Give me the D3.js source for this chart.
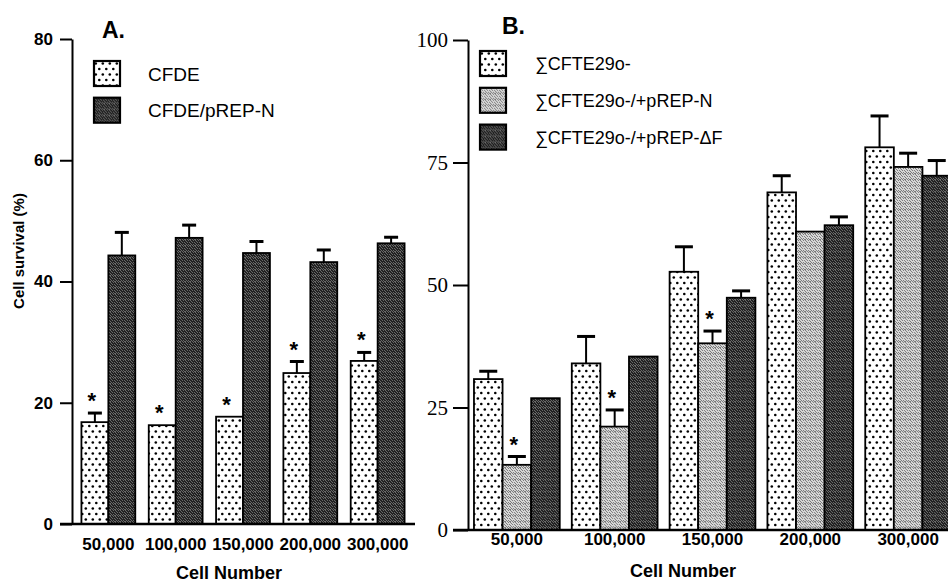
<!DOCTYPE html>
<html>
<head>
<meta charset="utf-8">
<script src="https://cdn.jsdelivr.net/npm/d3@7"></script>
<style>
  body { margin: 0; background: #fff; }
  svg { display: block; }
</style>
</head>
<body>
<svg id="chart"></svg>
<script>
// categories shared by both panels
var cellNumbers = ["50,000", "100,000", "150,000", "200,000", "300,000"];

// panel A
var seriesA = ["CFDE", "CFDE/pREP-N"];
var cfde = [16.8, 16.3, 17.7, 24.9, 26.9];
var cfdeErr = [1.5, 0, 0, 1.9, 1.4];
var cfdeSig = [true, true, true, true, true];
var cfdePrepN = [44.3, 47.2, 44.7, 43.2, 46.3];
var cfdePrepNErr = [3.8, 2.1, 1.9, 2.0, 1.0];
var cfdePrepNSig = [false, false, false, false, false];
var ticksA = [0, 20, 40, 60, 80];

// panel B
var seriesB = ["\u2211CFTE29o-", "\u2211CFTE29o-/+pREP-N", "\u2211CFTE29o-/+pREP-\u0394F"];
var cfte = [30.8, 34.0, 52.7, 68.9, 78.1];
var cfteErr = [1.6, 5.5, 5.1, 3.4, 6.4];
var cfteSig = [false, false, false, false, false];
var cftePrepN = [13.3, 21.1, 38.1, 60.9, 74.1];
var cftePrepNErr = [1.7, 3.4, 2.5, 0, 2.8];
var cftePrepNSig = [true, true, true, false, false];
var cftePrepDF = [26.9, 35.4, 47.4, 62.2, 72.3];
var cftePrepDFErr = [0, 0, 1.4, 1.7, 3.1];
var cftePrepDFSig = [false, false, false, false, false];
var ticksB = [0, 25, 50, 75, 100];

var svg = d3.select("#chart")
    .attr("width", 948)
    .attr("height", 584);

var sans = "'Liberation Sans', Arial, Helvetica, sans-serif",
    serif = "'Liberation Serif', 'Times New Roman', serif";

// fill patterns: dotted, light stipple, dark stipple
var defs = svg.append("defs");

var dots = defs.append("pattern")
    .attr("id", "dots")
    .attr("patternUnits", "userSpaceOnUse")
    .attr("width", 7)
    .attr("height", 11);
dots.append("rect").attr("width", 7).attr("height", 11).attr("fill", "#fff");
dots.append("circle").attr("cx", 1.8).attr("cy", 2.5).attr("r", 1.3).attr("fill", "#000");
dots.append("circle").attr("cx", 5.3).attr("cy", 8).attr("r", 1.3).attr("fill", "#000");

// scattered pixels so the stipple does not read as hatching
var speckle = [[0, 0], [3, 0], [1, 1], [4, 2], [2, 2], [0, 3], [3, 4], [1, 4], [4, 5], [2, 5], [0, 5]];
function stipple(id, bg, fg) {
    var p = defs.append("pattern")
        .attr("id", id)
        .attr("patternUnits", "userSpaceOnUse")
        .attr("width", 5)
        .attr("height", 6);
    p.append("rect").attr("width", 5).attr("height", 6).attr("fill", bg);
    p.selectAll("rect.px")
        .data(speckle)
        .enter().append("rect")
        .attr("class", "px")
        .attr("x", function (d) { return d[0]; })
        .attr("y", function (d) { return d[1]; })
        .attr("width", 1)
        .attr("height", 1)
        .attr("fill", fg);
}
stipple("gray", "#d6d6d6", "#7c7c7c");
stipple("dark", "#222", "#686868");

function drawPanel(p) {
    var g = svg.append("g");

    var x0 = d3.scaleBand()
        .domain(cellNumbers)
        .range(p.xRange)
        .paddingInner(p.padInner)
        .paddingOuter(p.padOuter);

    var x1 = d3.scaleBand()
        .domain(p.series)
        .range([0, x0.bandwidth()]);

    var y = d3.scaleLinear()
        .domain([0, p.ticks[p.ticks.length - 1]])
        .range(p.yRange);

    var fill = d3.scaleOrdinal()
        .domain(p.series)
        .range(p.fills);

    // flatten into one record per bar
    var bars = [];
    cellNumbers.forEach(function (c, i) {
        p.series.forEach(function (s, j) {
            bars.push({ cat: c, key: s, value: p.values[j][i], err: p.errors[j][i], sig: p.sig[j][i] });
        });
    });

    g.append("g")
        .selectAll("rect")
        .data(bars)
        .enter().append("rect")
        .attr("x", function (d) { return x0(d.cat) + x1(d.key); })
        .attr("y", function (d) { return y(d.value); })
        .attr("width", x1.bandwidth())
        .attr("height", function (d) { return y(0) - y(d.value); })
        .attr("fill", function (d) { return "url(#" + fill(d.key) + ")"; })
        .attr("stroke", "#000")
        .attr("stroke-width", 1.8);

    // upward error bars
    var eb = g.append("g")
        .selectAll("g")
        .data(bars.filter(function (d) { return d.err > 0; }))
        .enter().append("g")
        .attr("transform", function (d) { return "translate(" + (x0(d.cat) + x1(d.key) + x1.bandwidth() / 2) + ",0)"; });

    eb.append("line")
        .attr("y1", function (d) { return y(d.value); })
        .attr("y2", function (d) { return y(d.value + d.err); })
        .attr("stroke", "#000")
        .attr("stroke-width", 2);

    eb.append("line")
        .attr("x1", -p.capWidth / 2)
        .attr("x2", p.capWidth / 2)
        .attr("y1", function (d) { return y(d.value + d.err); })
        .attr("y2", function (d) { return y(d.value + d.err); })
        .attr("stroke", "#000")
        .attr("stroke-width", 3);

    // significance stars
    g.append("g")
        .selectAll("text")
        .data(bars.filter(function (d) { return d.sig; }))
        .enter().append("text")
        .attr("x", function (d) { return x0(d.cat) + x1(d.key) + x1.bandwidth() / 2 - 3; })
        .attr("y", function (d) { return y(d.value + d.err) - 17 + 12; })
        .attr("text-anchor", "middle")
        .attr("font-family", sans)
        .attr("font-weight", "bold")
        .attr("font-size", 22)
        .attr("fill", "#000")
        .text("*");

    // y axis
    var yAxis = g.append("g")
        .attr("transform", "translate(" + p.xRange[0] + ",0)")
        .call(d3.axisLeft(y).tickValues(p.ticks).tickSize(p.tickSize).tickSizeOuter(0).tickPadding(p.tickPad));
    yAxis.select(".domain").attr("stroke-width", 2);
    yAxis.selectAll(".tick line").attr("stroke-width", 2);
    yAxis.selectAll(".tick text")
        .attr("font-family", p.tickFont)
        .attr("font-weight", p.tickWeight)
        .attr("font-size", p.tickFontSize)
        .attr("fill", "#000");

    // x axis line runs from the zero tick
    g.append("line")
        .attr("x1", p.xRange[0] - p.tickSize)
        .attr("x2", p.xLineEnd)
        .attr("y1", y(0))
        .attr("y2", y(0))
        .attr("stroke", "#000")
        .attr("stroke-width", 2.5);

    var xAxis = g.append("g")
        .attr("transform", "translate(0," + y(0) + ")")
        .call(d3.axisBottom(x0).tickSize(0).tickPadding(p.xLabelPad));
    xAxis.select(".domain").remove();
    xAxis.selectAll(".tick text")
        .attr("font-family", sans)
        .attr("font-weight", "bold")
        .attr("font-size", 17)
        .attr("fill", "#000");

    g.append("text")
        .attr("x", p.xTitle[0])
        .attr("y", p.xTitle[1])
        .attr("text-anchor", "middle")
        .attr("font-family", sans)
        .attr("font-weight", "bold")
        .attr("font-size", 18)
        .text("Cell Number");

    // panel letter
    g.append("text")
        .attr("x", p.letterPos[0])
        .attr("y", p.letterPos[1])
        .attr("font-family", sans)
        .attr("font-weight", "bold")
        .attr("font-size", 23)
        .text(p.letter);

    // to show color->meaning
    var tags = g.append("g")
        .selectAll("g")
        .data(p.series)
        .enter().append("g")
        .attr("transform", function (d, i) { return "translate(" + p.legendPos[0] + "," + (p.legendPos[1] + i * p.legendStep) + ")"; });

    tags.append("rect")
        .attr("width", 26)
        .attr("height", 25)
        .attr("fill", function (d) { return "url(#" + fill(d) + ")"; })
        .attr("stroke", "#000")
        .attr("stroke-width", 2.2);

    tags.append("text")
        .attr("x", p.legendTextX)
        .attr("y", 13)
        .attr("dy", "0.35em")
        .attr("font-family", sans)
        .attr("font-size", p.legendFontSize)
        .text(function (d) { return d; });

    return g;
}

drawPanel({
    letter: "A.",
    letterPos: [102, 38],
    series: seriesA,
    values: [cfde, cfdePrepN],
    errors: [cfdeErr, cfdePrepNErr],
    sig: [cfdeSig, cfdePrepNSig],
    fills: ["dots", "dark"],
    ticks: ticksA,
    xRange: [72, 414],
    xLineEnd: 415,
    padInner: 0.2,
    padOuter: 0.14,
    yRange: [524, 39],
    capWidth: 14,
    tickSize: 12,
    tickPad: 7,
    tickFont: sans,
    tickWeight: "bold",
    tickFontSize: 17,
    xLabelPad: 14,
    xTitle: [229, 579],
    legendPos: [94, 61],
    legendStep: 36.7,
    legendTextX: 54,
    legendFontSize: 19
});

drawPanel({
    letter: "B.",
    letterPos: [502, 34],
    series: seriesB,
    values: [cfte, cftePrepN, cftePrepDF],
    errors: [cfteErr, cftePrepNErr, cftePrepDFErr],
    sig: [cfteSig, cftePrepNSig, cftePrepDFSig],
    fills: ["dots", "gray", "dark"],
    ticks: ticksB,
    xRange: [468, 957],
    xLineEnd: 960,
    padInner: 0.123,
    padOuter: 0.061,
    yRange: [530, 40],
    capWidth: 18,
    tickSize: 15,
    tickPad: 5,
    tickFont: serif,
    tickWeight: "normal",
    tickFontSize: 21,
    xLabelPad: 3,
    xTitle: [683, 577],
    legendPos: [480, 51],
    legendStep: 36.8,
    legendTextX: 55,
    legendFontSize: 18
});

// y axis title, panel A only
svg.append("text")
    .attr("transform", "translate(24,251)rotate(-90)")
    .attr("text-anchor", "middle")
    .attr("font-family", sans)
    .attr("font-weight", "bold")
    .attr("font-size", 15)
    .text("Cell survival (%)");
</script>
</body>
</html>
